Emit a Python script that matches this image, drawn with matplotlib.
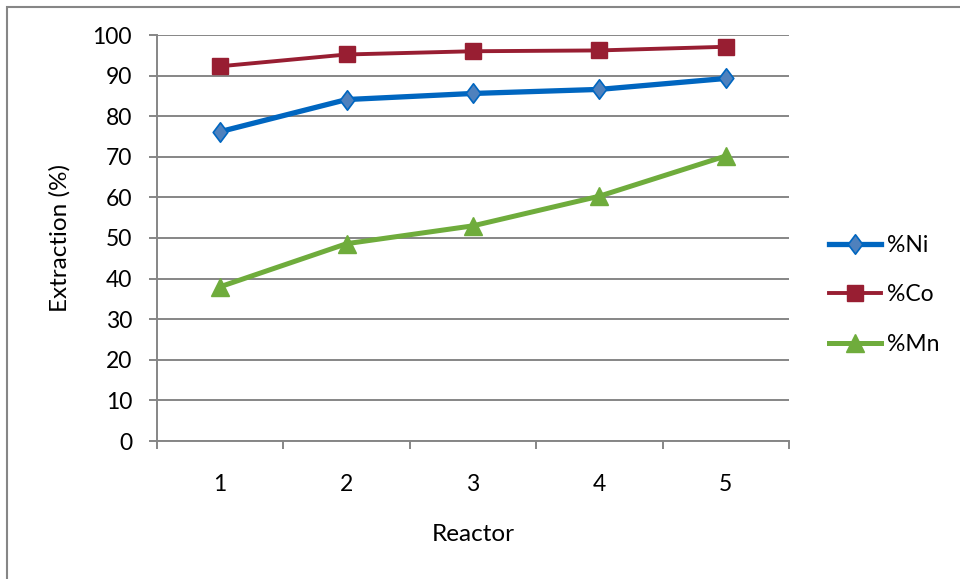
import matplotlib
matplotlib.use("Agg")
import matplotlib.pyplot as plt
from matplotlib.path import Path
from matplotlib.patches import Rectangle

plt.rcParams['font.family'] = ['Lato', 'DejaVu Sans']

reactors = [1, 2, 3, 4, 5]
ni = [76.2, 84.1, 85.6, 86.6, 89.3]
co = [92.3, 95.2, 96.0, 96.2, 97.1]
mn = [38.0, 48.6, 53.0, 60.3, 70.2]
yticks = [0, 10, 20, 30, 40, 50, 60, 70, 80, 90, 100]

W, H = 960, 579
fig = plt.figure(figsize=(W / 100, H / 100), dpi=100)
ax = fig.add_axes([157 / W, 1 - 441 / H, (789 - 157) / W, (441 - 35) / H])

diamond = Path([(0, 1), (0.75, 0), (0, -1), (-0.75, 0), (0, 1)],
               [Path.MOVETO, Path.LINETO, Path.LINETO, Path.LINETO, Path.CLOSEPOLY])

gray = '#868686'
ax.plot(reactors, ni, color='#0066C0', lw=3.8, marker=diamond, ms=14,
        mfc='#4F81BD', mec='#0066C0', mew=1.2, label='%Ni', zorder=3)
ax.plot(reactors, co, color='#981E32', lw=2.8, marker='s', ms=11.5,
        mfc='#981E32', mec='#981E32', label='%Co', zorder=3)
ax.plot(reactors, mn, color='#6FAC3C', lw=3.6, marker='^', ms=13.5,
        mfc='#6FAC3C', mec='#6FAC3C', label='%Mn', zorder=3)

ax.set_xlim(0.5, 5.5)
ax.set_ylim(0, 100)
ax.set_yticks(yticks)
ax.set_xticks(reactors)
ax.set_xticks([0.5, 1.5, 2.5, 3.5, 4.5, 5.5], minor=True)
ax.tick_params(axis='x', which='major', length=0, pad=24, labelsize=16.5)
ax.tick_params(axis='x', which='minor', length=6, width=1.4, color=gray, direction='out')
ax.tick_params(axis='y', length=6, width=1.4, color=gray, labelsize=16.5, pad=12)
ax.yaxis.grid(True, color=gray, lw=1.4)
ax.set_axisbelow(True)
for s in ['top', 'right']:
    ax.spines[s].set_visible(False)
for s in ['left', 'bottom']:
    ax.spines[s].set_color(gray)
    ax.spines[s].set_linewidth(1.4)

ax.set_xlabel('Reactor', fontsize=17.5)
ax.set_ylabel('Extraction (%)', fontsize=17.5)
ax.xaxis.set_label_coords(0.5, (441 - 524) / 406)
ax.yaxis.set_label_coords((71 - 157) / 632, 0.5)

leg = fig.legend(loc='center left', bbox_to_anchor=(808 / W, 1 - 295 / H),
                 frameon=False, fontsize=16.5, handlelength=2.3,
                 labelspacing=1.25, handletextpad=0.25)

fig.patches.append(Rectangle((7 / W, -0.1), 1.2, 1 - 7 / H + 0.1,
                             transform=fig.transFigure, fill=False,
                             ec=gray, lw=1.5))

fig.savefig('out.png', dpi=100)
